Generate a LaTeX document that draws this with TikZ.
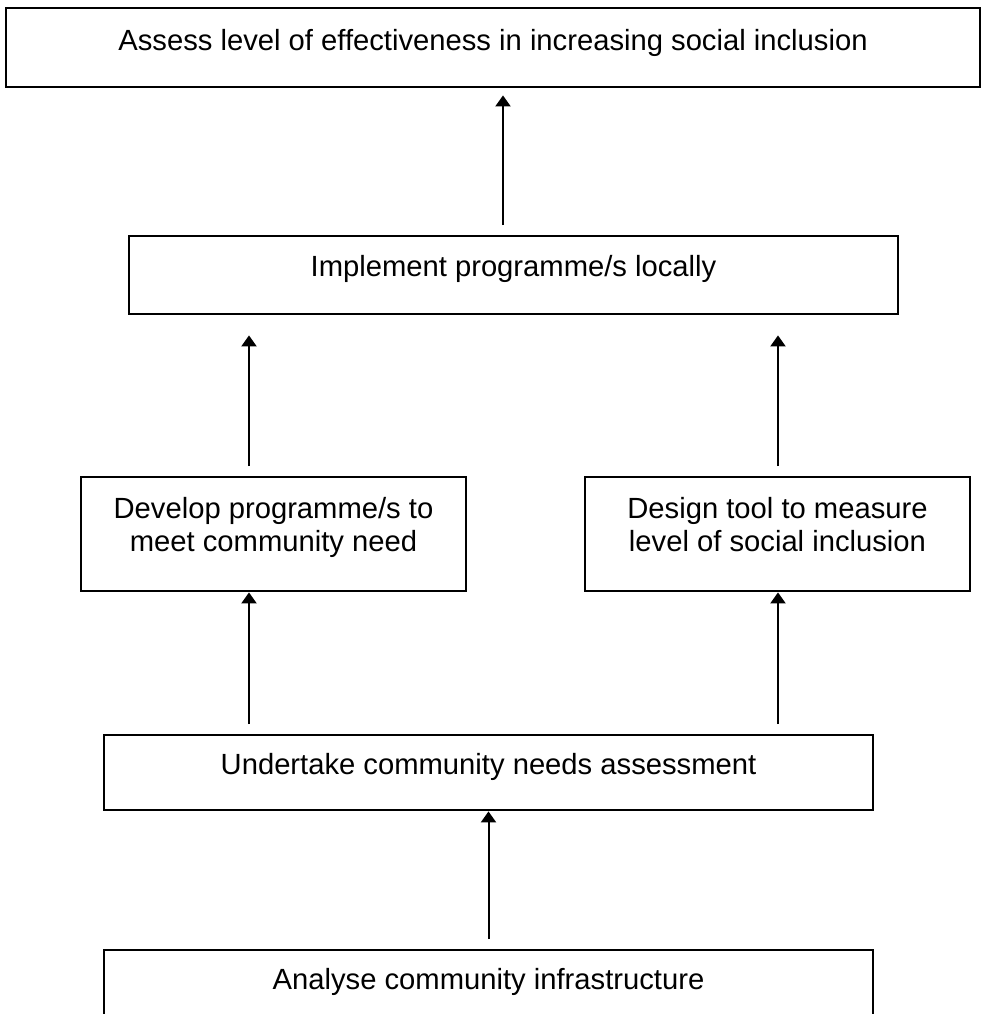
\documentclass[tikz,border=0pt]{standalone}
\usepackage{fontspec}
\setmainfont{Liberation Sans}
\usetikzlibrary{arrows.meta}
\begin{document}
\begin{tikzpicture}[x=0.5pt,y=-0.5pt,
  stage/.style={draw,line width=1.2pt,anchor=north,inner sep=0pt,align=center,font=\fontsize{14.6pt}{16.5pt}\selectfont},
  flow/.style={line width=1pt,-{Triangle[width=7.5pt,length=5.5pt]},shorten <=5pt}]
\useasboundingbox (0,0) rectangle (982,1014);
\node[stage,minimum width=487pt,text height=21pt,text depth=18.5pt] (assess) at (493,7) {Assess level of effectiveness in increasing social inclusion};
\node[stage,minimum width=384.5pt,text height=20pt,text depth=19pt] (impl) at (513.5,235) {Implement programme/s locally};
\node[stage,minimum width=192.5pt,text height=37pt,text depth=20pt] (dev) at (273.5,476) {Develop programme/s to\\meet community need};
\node[stage,minimum width=192.5pt,text height=37pt,text depth=20pt] (tool) at (777.5,476) {Design tool to measure\\level of social inclusion};
\node[stage,minimum width=384.5pt,text height=19.5pt,text depth=18pt] (needs) at (488.5,734) {Undertake community needs assessment};
\node[stage,minimum width=384.5pt,text height=19.5pt,text depth=26pt] (infra) at (488.5,949) {Analyse community infrastructure};
\coordinate (lx) at (249,0); \coordinate (rx) at (778,0);
\draw[flow] (infra.north) -- (needs.south);
\draw[flow] (needs.north -| lx) -- (dev.south -| lx);
\draw[flow] (needs.north -| rx) -- (tool.south -| rx);
\draw[flow,shorten >=10pt] (dev.north -| lx) -- (impl.south -| lx);
\draw[flow,shorten >=10pt] (tool.north -| rx) -- (impl.south -| rx);
\draw[flow,shorten >=3.5pt] ([xshift=-5.25pt]impl.north) -- ([xshift=-5.25pt]impl.north |- assess.south);
\end{tikzpicture}
\end{document}
